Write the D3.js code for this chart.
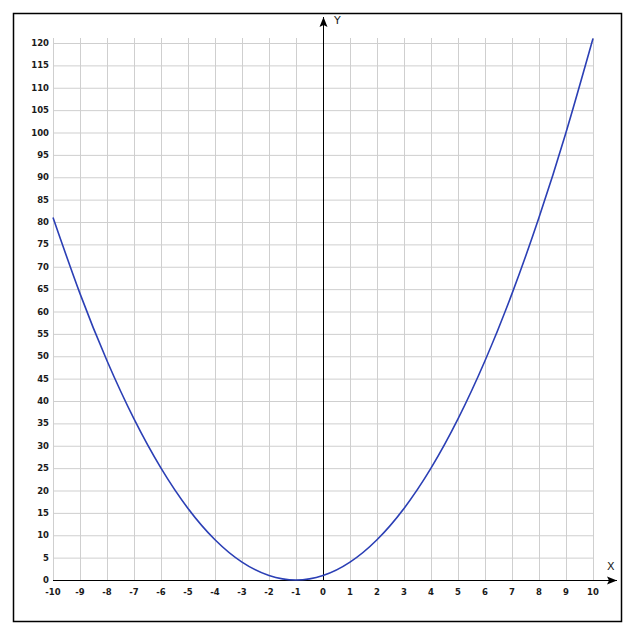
<!DOCTYPE html>
<html>
<head>
<meta charset="utf-8"/>
<script src="https://d3js.org/d3.v7.min.js"></script>
<style>
  body { margin: 0; background: #fff; }
  text { font-family: "DejaVu Sans", Verdana, sans-serif; font-size: 8.5px; font-weight: bold; fill: #1a1a1a; }
</style>
</head>
<body>
<svg width="629" height="641"></svg>
<script>
// valores
const xValues = [-10, -9, -8, -7, -6, -5, -4, -3, -2, -1, 0, 1, 2, 3, 4, 5, 6, 7, 8, 9, 10];
const yValues = [81, 64, 49, 36, 25, 16, 9, 4, 1, 0, 1, 4, 9, 16, 25, 36, 49, 64, 81, 100, 121];
const xTicks = d3.range(-10, 11, 1);
const yTicks = d3.range(0, 121, 5);

const blue = "#2b3fb5", grid = "#cfcfcf";

const svg = d3.select("svg");

// marco exterior
svg.append("rect")
  .attr("x", 13.5).attr("y", 13.5)
  .attr("width", 608).attr("height", 608)
  .attr("fill", "none").attr("stroke", "#000").attr("stroke-width", 1.5);

const x = d3.scaleLinear().domain([-10, 10]).range([53, 593]);
const y = d3.scaleLinear().domain([0, 120]).range([580, 43]);

// grilla vertical
svg.append("g").selectAll("line")
  .data(xTicks).enter().append("line")
  .attr("x1", d => x(d) + 0.5).attr("x2", d => x(d) + 0.5)
  .attr("y1", 38).attr("y2", y(0))
  .attr("stroke", grid);

// grilla horizontal
svg.append("g").selectAll("line")
  .data(yTicks).enter().append("line")
  .attr("x1", x(-10)).attr("x2", x(10))
  .attr("y1", d => y(d) + 0.5).attr("y2", d => y(d) + 0.5)
  .attr("stroke", grid);

// etiquetas eje y
svg.append("g").selectAll("text")
  .data(yTicks).enter().append("text")
  .attr("x", 49).attr("y", d => y(d) + 3)
  .attr("text-anchor", "end")
  .text(d => d);

// etiquetas eje x
svg.append("g").selectAll("text")
  .data(xTicks).enter().append("text")
  .attr("x", d => x(d)).attr("y", 595)
  .attr("text-anchor", "middle")
  .text(d => d);

// flechas
svg.append("defs").append("marker")
  .attr("id", "arrow").attr("viewBox", "0 0 10 10")
  .attr("refX", 10).attr("refY", 5)
  .attr("markerWidth", 10).attr("markerHeight", 10)
  .attr("markerUnits", "userSpaceOnUse")
  .attr("orient", "auto")
  .append("path").attr("d", "M0,1 L10,5 L0,9 L2,5 Z").attr("fill", "#000");

// eje x
svg.append("line")
  .attr("x1", x(-10)).attr("x2", 617)
  .attr("y1", y(0) + 0.5).attr("y2", y(0) + 0.5)
  .attr("stroke", "#000").attr("marker-end", "url(#arrow)");

// eje y
svg.append("line")
  .attr("x1", x(0) + 0.5).attr("x2", x(0) + 0.5)
  .attr("y1", y(0)).attr("y2", 17)
  .attr("stroke", "#000").attr("marker-end", "url(#arrow)");

svg.append("text").attr("x", 607).attr("y", 570).style("font-size", "11px").style("font-weight", "normal").text("X");
svg.append("text").attr("x", 334).attr("y", 24).style("font-size", "11px").style("font-weight", "normal").text("Y");

// curva
const data = xValues.map((d, i) => ({x: d, y: yValues[i]}));
const line = d3.line()
  .x(d => x(d.x))
  .y(d => y(d.y))
  .curve(d3.curveNatural);

svg.append("path")
  .attr("d", line(data))
  .attr("fill", "none")
  .attr("stroke", blue)
  .attr("stroke-width", 1.6);
</script>
</body>
</html>
